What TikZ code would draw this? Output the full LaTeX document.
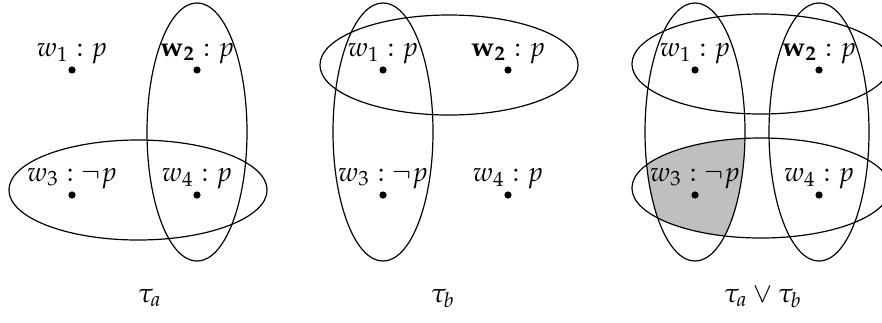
\documentclass[tikz,border=0pt]{standalone}
\usepackage{mathpazo}
\begin{document}
\begin{tikzpicture}[x=0.375pt,y=-0.375pt,
  dot/.style={circle,fill=black,inner sep=0pt,minimum size=2.7pt},
  lab/.style={anchor=base,inner sep=0pt,font=\fontsize{10.2}{12}\selectfont},
  captxt/.style={anchor=base,inner sep=0pt,font=\fontsize{10.2}{12}\selectfont},
  ring/.style={draw=black,line width=0.45pt},
  vring/.style={ring,x radius=18.75pt,y radius=48.4pt},
  hring/.style={ring,x radius=48.4pt,y radius=18.75pt}]
\useasboundingbox (0,0) rectangle (882,322);
% ---------- panel a ----------
\node[dot] (a1) at (72,70) {};
\node[dot] (a2) at (197,70) {};
\node[dot] (a3) at (72,195) {};
\node[dot] (a4) at (197,195) {};
\node[lab] (a1l) at (72,56) {$w_1 : p$};
\node[lab] (a2l) at (197,56) {$\mathbf{w_2} : p$};
\node[lab] (a3l) at (72,181) {$w_3 : \neg p$};
\node[lab] (a4l) at (197,181) {$w_4 : p$};
\draw[vring] (197,132) ellipse [];
\draw[hring] (138,190) ellipse [];
\node[captxt] (ca) at (150,302) {$\tau_a$};
% ---------- panel b ----------
\node[dot] (b1) at (383,70) {};
\node[dot] (b2) at (508,70) {};
\node[dot] (b3) at (383,195) {};
\node[dot] (b4) at (508,195) {};
\node[lab] (b1l) at (383,56) {$w_1 : p$};
\node[lab] (b2l) at (508,56) {$\mathbf{w_2} : p$};
\node[lab] (b3l) at (383,181) {$w_3 : \neg p$};
\node[lab] (b4l) at (508,181) {$w_4 : p$};
\draw[vring] (383,132) ellipse [];
\draw[hring] (449,65) ellipse [];
\node[captxt] (cb) at (443,302) {$\tau_b$};
% ---------- panel c ----------
\begin{scope}
  \clip (695,132) ellipse [x radius=18.75pt,y radius=48.4pt];
  \fill[gray!50] (761,188) ellipse [x radius=48.4pt,y radius=18.75pt];
\end{scope}
\node[dot] (c1) at (695,70) {};
\node[dot] (c2) at (819,70) {};
\node[dot] (c3) at (695,195) {};
\node[dot] (c4) at (819,195) {};
\node[lab] (c1l) at (695,56) {$w_1 : p$};
\node[lab] (c2l) at (819,56) {$\mathbf{w_2} : p$};
\node[lab] (c3l) at (695,181) {$w_3 : \neg p$};
\node[lab] (c4l) at (819,181) {$w_4 : p$};
\draw[vring] (695,132) ellipse [];
\draw[vring] (819,132) ellipse [];
\draw[hring] (761,64) ellipse [];
\draw[hring] (761,188) ellipse [];
\node[captxt] (cc) at (763,302) {$\tau_a \vee \tau_b$};
\end{tikzpicture}
\end{document}
